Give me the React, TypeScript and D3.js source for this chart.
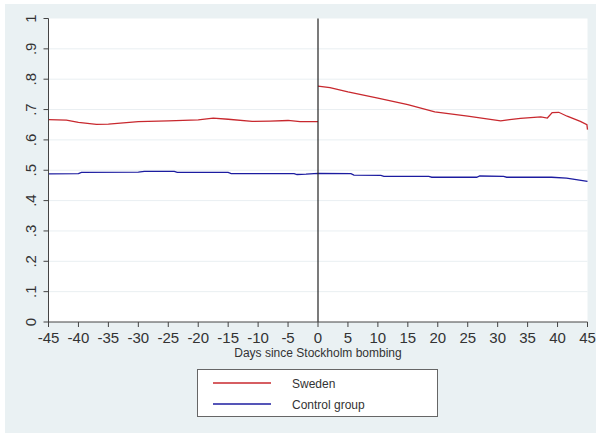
import React, { useEffect, useRef } from 'react';
import * as d3 from 'd3';

// Sweden, before the bombing (days -45..0)
const swedenPreDays = [-45, -42, -40, -37, -35, -32, -30, -25, -20, -17.5, -15, -11, -8, -5, -3, 0];
const swedenPreVals = [0.667, 0.665, 0.658, 0.651, 0.652, 0.657, 0.66, 0.663, 0.666, 0.672, 0.668, 0.661, 0.662, 0.664, 0.66, 0.66];

// Sweden, after the bombing (days 0..45)
const swedenPostDays = [0, 2, 5, 10, 15, 19.5, 25, 30.5, 32, 33.8, 37.2, 38.3, 39.1, 40.2, 41.6, 43.8, 44.9, 45];
const swedenPostVals = [0.777, 0.772, 0.758, 0.738, 0.716, 0.692, 0.678, 0.663, 0.667, 0.671, 0.676, 0.672, 0.69, 0.691, 0.678, 0.661, 0.65, 0.634];

// Control group
const controlDays = [-45, -40, -39.5, -30, -29, -24, -23.5, -15, -14.5, -4, -3.5, -2, 0, 5.5, 6, 10.5, 11, 18.5, 19, 26.5, 27, 31, 31.5, 39, 41.5, 45];
const controlVals = [0.488, 0.489, 0.493, 0.494, 0.496, 0.496, 0.493, 0.493, 0.489, 0.489, 0.486, 0.487, 0.49, 0.489, 0.484, 0.483, 0.48, 0.48, 0.477, 0.477, 0.481, 0.48, 0.477, 0.477, 0.474, 0.463];

const xTicks = d3.range(-45, 46, 5);
const yTicks = d3.range(0, 11).map(i => i / 10);
const yTickLabels = ['0', '.1', '.2', '.3', '.4', '.5', '.6', '.7', '.8', '.9', '1'];

const legendItems = [
    { label: 'Sweden', color: '#c8282e' },
    { label: 'Control group', color: '#1c1ca0' },
];

const W = 596;
const H = 435;
const FONT = '"Liberation Sans", Arial, sans-serif';

export default function App() {
    const svgRef = useRef<SVGSVGElement>(null);

    useEffect(() => {
        const svg = d3.select(svgRef.current);
        svg.selectAll('*').remove();

        const x = d3.scaleLinear().domain([-45, 45]).range([48.5, 587.5]);
        const y = d3.scaleLinear().domain([0, 1]).range([322, 18.5]);

        // outer background
        svg.append('rect')
            .attr('x', 5).attr('y', 4)
            .attr('width', W - 5).attr('height', 429)
            .attr('fill', '#eaf1f3');

        // plot region
        svg.append('rect')
            .attr('x', x(-45)).attr('y', y(1))
            .attr('width', x(45) - x(-45)).attr('height', y(0) - y(1))
            .attr('fill', '#ffffff');

        // gridlines
        svg.append('g').selectAll('line')
            .data(yTicks.slice(1, -1))
            .enter().append('line')
            .attr('x1', x(-45)).attr('x2', x(45))
            .attr('y1', d => y(d)).attr('y2', d => y(d))
            .attr('stroke', '#e9eff2').attr('stroke-width', 1);

        const line = d3.line<[number, number]>()
            .x(d => x(d[0]))
            .y(d => y(d[1]));

        const zip = (a: number[], b: number[]) => a.map((v, i) => [v, b[i]] as [number, number]);

        svg.append('path')
            .attr('d', line(zip(controlDays, controlVals)))
            .attr('fill', 'none').attr('stroke', legendItems[1].color).attr('stroke-width', 1.3);

        svg.append('path')
            .attr('d', line(zip(swedenPreDays, swedenPreVals)))
            .attr('fill', 'none').attr('stroke', legendItems[0].color).attr('stroke-width', 1.3);

        svg.append('path')
            .attr('d', line(zip(swedenPostDays, swedenPostVals)))
            .attr('fill', 'none').attr('stroke', legendItems[0].color).attr('stroke-width', 1.3);

        // event line at day 0
        svg.append('line')
            .attr('x1', x(0)).attr('x2', x(0))
            .attr('y1', y(1)).attr('y2', y(0))
            .attr('stroke', '#222').attr('stroke-width', 1.2);

        // axes
        const axisColor = '#444';
        svg.append('line')
            .attr('x1', x(-45)).attr('x2', x(-45))
            .attr('y1', y(1)).attr('y2', y(0))
            .attr('stroke', axisColor);
        svg.append('line')
            .attr('x1', x(-45)).attr('x2', x(45))
            .attr('y1', y(0)).attr('y2', y(0))
            .attr('stroke', axisColor);

        const yAxis = svg.append('g');
        yAxis.selectAll('line')
            .data(yTicks)
            .enter().append('line')
            .attr('x1', x(-45) - 5).attr('x2', x(-45))
            .attr('y1', d => y(d)).attr('y2', d => y(d))
            .attr('stroke', axisColor);
        yAxis.selectAll('text')
            .data(yTicks)
            .enter().append('text')
            .attr('transform', d => `translate(35.5, ${y(d)}) rotate(-90)`)
            .attr('text-anchor', 'middle')
            .style('font-family', FONT)
            .style('font-size', '15px')
            .attr('fill', '#333')
            .text((d, i) => yTickLabels[i]);

        const xAxis = svg.append('g');
        xAxis.selectAll('line')
            .data(xTicks)
            .enter().append('line')
            .attr('x1', d => x(d)).attr('x2', d => x(d))
            .attr('y1', y(0)).attr('y2', y(0) + 5)
            .attr('stroke', axisColor);
        xAxis.selectAll('text')
            .data(xTicks)
            .enter().append('text')
            .attr('x', d => x(d))
            .attr('y', 343)
            .attr('text-anchor', 'middle')
            .style('font-family', FONT)
            .style('font-size', '15px')
            .attr('fill', '#333')
            .text(d => String(d));

        svg.append('text')
            .attr('x', x(0))
            .attr('y', 357)
            .attr('text-anchor', 'middle')
            .style('font-family', FONT)
            .style('font-size', '12px')
            .attr('fill', '#333')
            .text('Days since Stockholm bombing');

        // legend
        const legend = svg.append('g');
        legend.append('rect')
            .attr('x', 197.5).attr('y', 369.5)
            .attr('width', 240).attr('height', 47)
            .attr('fill', '#ffffff')
            .attr('stroke', '#666');

        const rows = legend.selectAll('g.item')
            .data(legendItems)
            .enter().append('g')
            .attr('class', 'item')
            .attr('transform', (d, i) => `translate(0, ${383 + i * 21})`);
        rows.append('line')
            .attr('x1', 213).attr('x2', 271)
            .attr('y1', 0).attr('y2', 0)
            .attr('stroke', d => d.color).attr('stroke-width', 1.3);
        rows.append('text')
            .attr('x', 292).attr('y', 4.5)
            .style('font-family', FONT)
            .style('font-size', '12px')
            .attr('fill', '#333')
            .text(d => d.label);
    }, []);

    return (
        <div style={{ position: 'absolute', left: 0, top: 0, width: W, height: H, background: '#fff' }}>
            <svg ref={svgRef} width={W} height={H} />
        </div>
    );
}
